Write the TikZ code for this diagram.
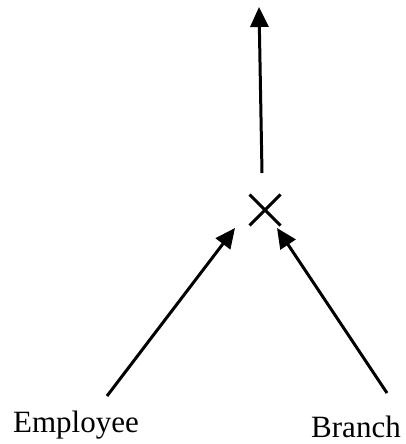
\documentclass[tikz,border=0pt]{standalone}
\usepackage{fontspec}
\setmainfont{Liberation Serif}
\usetikzlibrary{arrows.meta,shapes.misc}
\begin{document}
\begin{tikzpicture}[x=1pt,y=-1pt,
  arr/.style={line width=3pt,-{Triangle[length=20pt,width=18pt]}},
  lbl/.style={font=\fontsize{31}{31}\selectfont,inner sep=0pt,anchor=base}]
\useasboundingbox (0,0) rectangle (405,444);
\node[cross out,draw,line width=3pt,minimum width=28pt,minimum height=28pt,inner sep=0pt] (op) at (265,210) {};
\coordinate (outs) at (262,173);
\coordinate (oute) at (259,7);
\coordinate (ls) at (107,396);
\coordinate (le) at (235,228);
\coordinate (rs) at (387,393);
\coordinate (re) at (277,228);
\node[lbl] (emp) at (76,432) {Employee};
\node[lbl] (br) at (356,437) {Branch};
\draw[arr] (outs) -- (oute);
\draw[arr] (ls) -- (le);
\draw[arr] (rs) -- (re);
\end{tikzpicture}
\end{document}
